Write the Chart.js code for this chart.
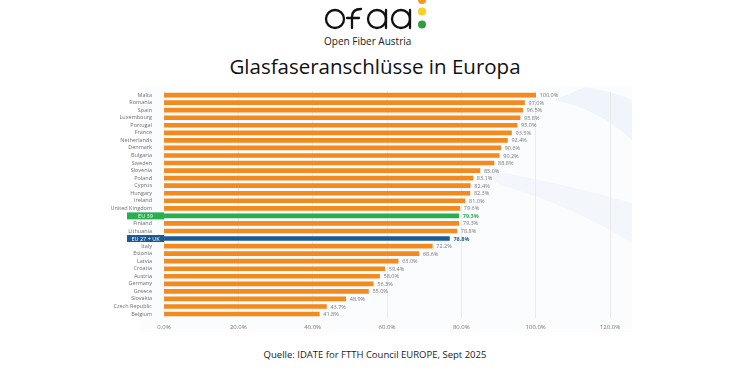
<!DOCTYPE html>
<html>
<head>
<meta charset="utf-8">
<script src="https://cdn.jsdelivr.net/npm/chart.js@4.4.1/dist/chart.umd.min.js"></script>
<style>
  html, body { margin: 0; padding: 0; background: #fff; }
  body { width: 750px; height: 375px; position: relative; overflow: hidden; font-family: "Open Sans", sans-serif; }
  svg.bg, svg.logo { position: absolute; left: 0; top: 0; }
  .brand { position: absolute; left: 324px; top: 34px; font-family: "Open Sans", sans-serif; font-size: 10px; color: #222; }
  .title { position: absolute; left: 0; width: 750px; top: 52px; text-align: center; font-family: "Open Sans", sans-serif; font-size: 20.5px; color: #111; }
  .source { position: absolute; left: 0; width: 750px; top: 348px; text-align: center; font-family: "Open Sans", sans-serif; font-size: 9.5px; color: #222; }
  #wrap { position: absolute; left: 0; top: 84px; width: 750px; height: 253px; }
</style>
</head>
<body>
<!-- faint background panel with swooshes -->
<svg class="bg" width="750" height="375">
  <rect x="140" y="86" width="492" height="246" fill="#fbfcfd"/>
  <path d="M585 87 Q615 92 632 100 L632 140 Q600 110 555 100 Z" fill="#f0f5fb"/>
  <path d="M480 168 Q570 185 632 203 L632 243 Q570 205 500 185 Z" fill="#f3f7fc"/>
</svg>
<svg class="logo" width="750" height="60">
  <g fill="none" stroke="#111" stroke-width="2.3" stroke-linecap="round">
    <circle cx="335" cy="19" r="9"/>
    <path d="M352 28 L352 17 Q352 9 361 9"/>
    <path d="M347 18 L359 18"/>
    <circle cx="377" cy="19" r="9"/>
    <path d="M386 10 L386 28"/>
    <circle cx="401" cy="19" r="9"/>
    <path d="M410 10 L410 28"/>
  </g>
  <circle cx="422" cy="0" r="4" fill="#f29a1e"/>
  <circle cx="422" cy="11.5" r="4" fill="#f4d21f"/>
  <circle cx="422" cy="24.5" r="4" fill="#2e9e3e"/>
</svg>
<div class="brand">Open Fiber Austria</div>
<div class="title">Glasfaseranschlüsse in Europa</div>
<div id="wrap"><canvas id="chart"></canvas></div>
<div class="source">Quelle: IDATE for FTTH Council EUROPE, Sept 2025</div>
<script>
// Fibre coverage per country (FTTH/B, % of households)
const countries = ['Malta', 'Romania', 'Spain', 'Luxembourg', 'Portugal', 'France', 'Netherlands', 'Denmark',
    'Bulgaria', 'Sweden', 'Slovenia', 'Poland', 'Cyprus', 'Hungary', 'Ireland', 'United Kingdom', 'EU 39',
    'Finland', 'Lithuania', 'EU 27 + UK', 'Italy', 'Estonia', 'Latvia', 'Croatia', 'Austria', 'Germany',
    'Greece', 'Slovakia', 'Czech Republic', 'Belgium'];
const coverage = [100.0, 97.0, 96.5, 95.8, 95.0, 93.5, 92.4, 90.6, 90.2, 88.8, 85.0, 83.1, 82.4, 82.3, 81.0,
    79.6, 79.3, 79.3, 78.8, 76.8, 72.2, 68.6, 63.0, 59.4, 58.0, 56.3, 55.0, 48.9, 43.7, 41.8];
const xTicks = [0, 20, 40, 60, 80, 100, 120];

const ORANGE = '#f28a1e';
const GREEN = '#27ae4f';
const BLUE = '#1c5a94';
const highlight = { 'EU 39': GREEN, 'EU 27 + UK': BLUE };

const barColors = countries.map(c => highlight[c] || ORANGE);

// draws the coloured label boxes and the value labels
const labelsPlugin = {
    id: 'labelsPlugin',
    beforeDatasetsDraw(chart) {
        const ctx = chart.ctx;
        const y = chart.scales.y;
        countries.forEach((c, i) => {
            if (!highlight[c]) return;
            const py = y.getPixelForValue(i);
            ctx.save();
            ctx.fillStyle = highlight[c];
            ctx.fillRect(127, py - 3.5, chart.chartArea.left - 127, 7);
            ctx.restore();
        });
        // highlighted label text in white on top of the box
        ctx.save();
        ctx.font = '5.5px "Open Sans"';
        ctx.fillStyle = '#fff';
        ctx.textAlign = 'center';
        ctx.textBaseline = 'middle';
        countries.forEach((c, i) => {
            if (!highlight[c]) return;
            const py = y.getPixelForValue(i);
            ctx.fillText(c, (127 + chart.chartArea.left) / 2, py + 0.5);
        });
        ctx.restore();
    },
    afterDatasetsDraw(chart) {
        const ctx = chart.ctx;
        const meta = chart.getDatasetMeta(0);
        ctx.save();
        ctx.textBaseline = 'middle';
        meta.data.forEach((bar, i) => {
            const c = countries[i];
            if (highlight[c]) {
                ctx.font = 'bold 5.5px "Open Sans"';
                ctx.fillStyle = highlight[c];
            } else {
                ctx.font = '5.5px "Open Sans"';
                ctx.fillStyle = '#777';
            }
            ctx.fillText(coverage[i].toFixed(1) + '%', bar.x + 4, bar.y + 0.5);
        });
        ctx.restore();
    }
};

new Chart(document.getElementById('chart'), {
    type: 'bar',
    data: {
        labels: countries,
        datasets: [{
            data: coverage,
            backgroundColor: barColors,
            borderWidth: 0,
            barThickness: 4
        }]
    },
    options: {
        indexAxis: 'y',
        responsive: true,
        maintainAspectRatio: false,
        animation: false,
        layout: { padding: { top: 2, right: 140, bottom: 0, left: 0 } },
        plugins: {
            legend: { display: false },
            tooltip: { enabled: false }
        },
        scales: {
            x: {
                min: 0,
                max: 120,
                afterBuildTicks(scale) {
                    scale.ticks = xTicks.map(v => ({ value: v }));
                },
                grid: { color: '#e6e6e6', lineWidth: 0.8, drawTicks: false },
                border: { display: false },
                ticks: {
                    color: '#777',
                    padding: 6,
                    font: { size: 6, family: 'Open Sans' },
                    callback: v => v.toFixed(1) + '%'
                }
            },
            y: {
                afterFit(scale) { scale.width = 164; },
                grid: { display: false },
                border: { display: false },
                ticks: {
                    autoSkip: false,
                    padding: 4,
                    color: ctx => highlight[countries[ctx.index]] ? 'rgba(0,0,0,0)' : '#6f6f6f',
                    font: { size: 5.5, family: 'Open Sans' }
                }
            }
        }
    },
    plugins: [labelsPlugin]
});
</script>
</body>
</html>
